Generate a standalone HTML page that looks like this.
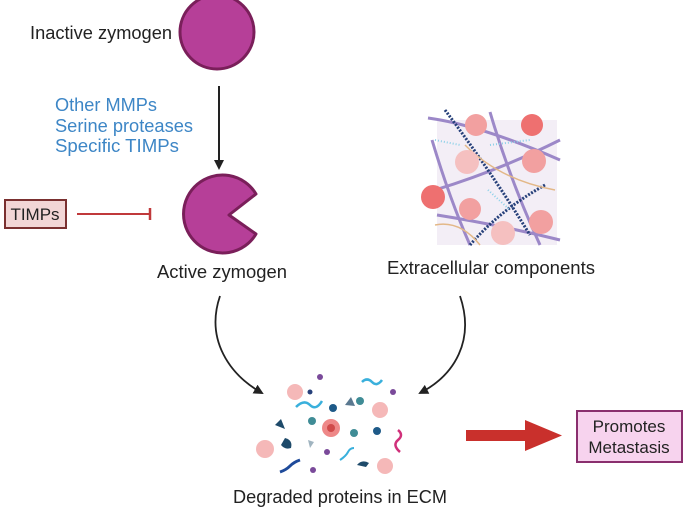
<!DOCTYPE html>
<html><head><style>body{margin:0;background:#fff}svg{display:block}text{font-family:"Liberation Sans",sans-serif}</style></head><body>
<svg width="685" height="509" viewBox="0 0 685 509">
<defs><marker id="ah" markerWidth="10" markerHeight="10" refX="8" refY="5" orient="auto" markerUnits="userSpaceOnUse"><path d="M0,0 L10,5 L0,10 Z" fill="#222"/></marker></defs>
<text x="30" y="39" font-size="18" fill="#222" textLength="142" lengthAdjust="spacingAndGlyphs">Inactive zymogen</text>
<circle cx="217" cy="32" r="37" fill="#b63f98" stroke="#7a1f5a" stroke-width="3"/>
<line x1="219" y1="86" x2="219" y2="168" stroke="#222" stroke-width="2" marker-end="url(#ah)"/>
<text font-size="18" fill="#3d86c6"><tspan x="55" y="111" textLength="102" lengthAdjust="spacingAndGlyphs">Other MMPs</tspan><tspan x="55" y="132" textLength="138" lengthAdjust="spacingAndGlyphs">Serine proteases</tspan><tspan x="55" y="152" textLength="124" lengthAdjust="spacingAndGlyphs">Specific TIMPs</tspan></text>
<path d="M256,194 A39,39 0 1 0 256,234 L229,215 Z" fill="#b63f98" stroke="#7a1f5a" stroke-width="3" stroke-linejoin="round"/>
<rect x="5" y="200" width="61" height="28" fill="#f2d6d6" stroke="#7a3030" stroke-width="2"/>
<text x="35" y="220" font-size="17" text-anchor="middle" fill="#222">TIMPs</text>
<line x1="77" y1="214" x2="150" y2="214" stroke="#c0393b" stroke-width="2"/>
<line x1="150" y1="208" x2="150" y2="220" stroke="#c0393b" stroke-width="2.5"/>
<text x="157" y="278" font-size="18" fill="#222" textLength="130" lengthAdjust="spacingAndGlyphs">Active zymogen</text>
<text x="387" y="274" font-size="18" fill="#222" textLength="208" lengthAdjust="spacingAndGlyphs">Extracellular components</text>
<rect x="437" y="120" width="120" height="125" fill="#f3eef6"/>
<g fill="none" stroke-width="3">
<path d="M428,118 Q480,125 560,160" stroke="#9c88c8"/>
<path d="M432,140 Q450,200 470,245" stroke="#9c88c8"/>
<path d="M435,190 Q500,170 560,140" stroke="#9c88c8"/>
<path d="M437,215 Q500,225 560,240" stroke="#9c88c8"/>
<path d="M490,112 Q510,180 540,245" stroke="#9c88c8"/>
<path d="M445,110 Q490,170 530,235" stroke="#26407a" stroke-dasharray="2 1.5"/>
<path d="M545,185 Q500,210 470,245" stroke="#26407a" stroke-dasharray="2 1.5"/>
<path d="M465,145 Q500,180 555,190" stroke="#e3b888" stroke-width="1.5"/>
<path d="M435,225 Q460,220 480,245" stroke="#e3b888" stroke-width="1.5"/>
<path d="M435,140 L460,145 M490,145 L530,140 M488,190 L510,210" stroke="#8cd0e8" stroke-width="2" stroke-dasharray="1 2"/>
</g>
<g fill="#f2a0a0"><circle cx="476" cy="125" r="11"/><circle cx="532" cy="125" r="11" fill="#ee7070"/><circle cx="534" cy="161" r="12"/><circle cx="467" cy="162" r="12" fill="#f5c0c0"/><circle cx="433" cy="197" r="12" fill="#ee7070"/><circle cx="470" cy="209" r="11"/><circle cx="541" cy="222" r="12"/><circle cx="503" cy="233" r="12" fill="#f5c0c0"/></g>
<path d="M220,296 C205,340 230,375 262,393" fill="none" stroke="#222" stroke-width="1.8" marker-end="url(#ah)"/>
<path d="M460,296 C475,340 455,375 420,393" fill="none" stroke="#222" stroke-width="1.8" marker-end="url(#ah)"/>
<g>
<circle cx="295" cy="392" r="8" fill="#f5b8b8"/><circle cx="310" cy="392" r="2.5" fill="#26407a"/>
<circle cx="320" cy="377" r="3" fill="#7a4a9a"/><circle cx="393" cy="392" r="3" fill="#7a4a9a"/>
<path d="M296,407 q8,-8 14,-2 t12,-4" stroke="#3ab0dc" stroke-width="2.5" fill="none"/>
<path d="M362,382 q5,-5 10,0 t10,-2" stroke="#3ab0dc" stroke-width="2.5" fill="none"/>
<circle cx="333" cy="408" r="4" fill="#1e5a88"/><path d="M345,405 l6,-8 l4,9 z" fill="#5a7890"/>
<circle cx="360" cy="401" r="4" fill="#3f8c96"/><circle cx="380" cy="410" r="8" fill="#f5b8b8"/>
<path d="M275,425 l6,-6 l4,10 z" fill="#1e4a6a"/><circle cx="312" cy="421" r="4" fill="#3f8c96"/>
<circle cx="331" cy="428" r="9" fill="#ee8888"/><circle cx="331" cy="428" r="4" fill="#d04a4a"/>
<circle cx="354" cy="433" r="4" fill="#3f8c96"/><circle cx="377" cy="431" r="4" fill="#1e5a88"/>
<path d="M398,430 q6,5 0,10 t2,12" stroke="#d0307a" stroke-width="2.5" fill="none"/>
<circle cx="265" cy="449" r="9" fill="#f5b8b8"/><path d="M285,438 q8,2 6,10 q-6,2 -10,-3z" fill="#1e4a6a"/>
<path d="M308,440 l6,2 l-4,6 z" fill="#a0b4c0"/><circle cx="327" cy="452" r="3" fill="#7a4a9a"/>
<path d="M340,460 q6,-4 8,-8 t6,-4" stroke="#3ab0dc" stroke-width="2" fill="none"/>
<path d="M357,465 q5,-6 12,-2 l-3,4 z" fill="#1e4a6a"/><circle cx="385" cy="466" r="8" fill="#f5b8b8"/>
<path d="M280,472 q6,-2 10,-6 t10,-6" stroke="#1e4a9a" stroke-width="3" fill="none"/><circle cx="313" cy="470" r="3" fill="#7a4a9a"/>
</g>
<text x="233" y="503" font-size="18" fill="#222" textLength="214" lengthAdjust="spacingAndGlyphs">Degraded proteins in ECM</text>
<rect x="466" y="430" width="62" height="11" fill="#c9302c"/>
<path d="M525,420 L562,435.5 L525,451 Z" fill="#c9302c"/>
<rect x="577" y="411" width="105" height="51" fill="#f7d3ee" stroke="#8a2f6e" stroke-width="2"/>
<text font-size="17" text-anchor="middle" fill="#222"><tspan x="629" y="432">Promotes</tspan><tspan x="629" y="453">Metastasis</tspan></text>
</svg>
</body></html>
